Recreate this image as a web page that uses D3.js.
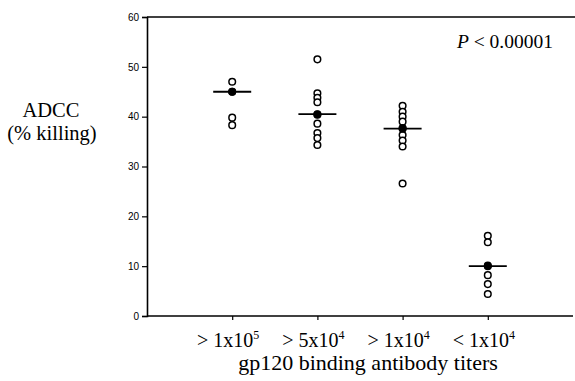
<!DOCTYPE html>
<html><head><meta charset="utf-8">
<script src="https://cdn.jsdelivr.net/npm/d3@7"></script>
<style>body{margin:0;background:#fff}svg{display:block}</style>
</head><body>
<script>
const categories = ["1x10^5:>", "5x10^4:>", "1x10^4:>", "1x10^4:<"];
const catLabels = [
  {sign: ">", base: "1x10", exp: "5"},
  {sign: ">", base: "5x10", exp: "4"},
  {sign: ">", base: "1x10", exp: "4"},
  {sign: "<", base: "1x10", exp: "4"}
];
const group1 = [47, 45, 39.8, 38.3];
const group2 = [51.5, 44.7, 43.8, 42.9, 40.4, 38.6, 36.7, 35.7, 34.3];
const group3 = [42.2, 41, 40, 39, 37.7, 36.3, 35.2, 34, 26.6];
const group4 = [16.1, 14.8, 10.1, 8.2, 6.4, 4.4];
const medians = [45, 40.5, 37.6, 10];
const yTicks = [0, 10, 20, 30, 40, 50, 60];
const groups = [group1, group2, group3, group4];

const W = 575, H = 381;
const m = {left: 147, right: 2, top: 17, bottom: 65};
const serif = "Liberation Serif, Times New Roman, serif";
const svg = d3.select("body").append("svg").attr("width", W).attr("height", H);

const x = d3.scalePoint().domain(categories).range([m.left, W - m.right]).padding(1);
const y = d3.scaleLinear().domain([0, 60]).range([H - m.bottom, m.top]);

// y axis
const yAxis = svg.append("g").attr("transform", `translate(${m.left},0)`)
  .call(d3.axisLeft(y).tickValues(yTicks).tickSize(5).tickPadding(3));
yAxis.select(".domain").attr("stroke", "#000").attr("stroke-width", 1.6);
yAxis.selectAll(".tick line").attr("stroke-width", 1.2);
yAxis.selectAll("text").attr("font-family", "Liberation Sans, Arial, sans-serif").attr("font-size", 10).attr("fill", "#000");

// x axis
const xAxis = svg.append("g").attr("transform", `translate(0,${H - m.bottom})`)
  .call(d3.axisBottom(x).tickSize(4).tickSizeOuter(0).tickFormat(""));
xAxis.select(".domain").attr("stroke", "#000").attr("stroke-width", 1.6)
  .attr("d", `M${m.left},0H${W - m.right}`);
xAxis.selectAll(".tick line").attr("stroke-width", 1.2);

// top frame line
svg.append("line").attr("x1", m.left).attr("x2", W).attr("y1", y(60)).attr("y2", y(60))
  .attr("stroke", "#000").attr("stroke-width", 1.6);

// x category labels
const lab = svg.append("g").selectAll("text").data(categories).join("text")
  .attr("x", d => x(d) - 4).attr("y", 347)
  .attr("text-anchor", "middle")
  .attr("font-family", serif).attr("font-size", 20).attr("fill", "#000");
lab.each(function(d, i) {
  const t = d3.select(this), L = catLabels[i];
  t.append("tspan").text(L.sign + " " + L.base);
  t.append("tspan").attr("dy", -8).attr("font-size", 12).text(L.exp);
});

svg.append("text").attr("x", 368).attr("y", 370).attr("text-anchor", "middle")
  .attr("font-family", serif).attr("font-size", 22)
  .text("gp120 binding antibody titers");

// y label
svg.append("text").attr("x", 51).attr("y", 117).attr("text-anchor", "middle")
  .attr("font-family", serif).attr("font-size", 20.5).text("ADCC");
svg.append("text").attr("x", 52).attr("y", 140).attr("text-anchor", "middle")
  .attr("font-family", serif).attr("font-size", 20.5).text("(% killing)");

// P value
const p = svg.append("text").attr("x", 553).attr("y", 48).attr("text-anchor", "end")
  .attr("font-family", serif).attr("font-size", 19.5);
p.append("tspan").attr("font-style", "italic").text("P");
p.append("tspan").text(" < 0.00001");

// points
groups.forEach((g, i) => {
  svg.append("g").selectAll("circle").data(g).join("circle")
    .attr("cx", x(categories[i])).attr("cy", d => y(d)).attr("r", 3.3)
    .attr("fill", "#fff").attr("stroke", "#000").attr("stroke-width", 1.5);
});
// median markers
svg.append("g").selectAll("line").data(medians).join("line")
  .attr("x1", (d, i) => x(categories[i]) - 19).attr("x2", (d, i) => x(categories[i]) + 19)
  .attr("y1", d => y(d)).attr("y2", d => y(d))
  .attr("stroke", "#000").attr("stroke-width", 1.8);
svg.append("g").selectAll("circle").data(medians).join("circle")
  .attr("cx", (d, i) => x(categories[i])).attr("cy", d => y(d)).attr("r", 4)
  .attr("fill", "#000");
</script>
</body></html>
